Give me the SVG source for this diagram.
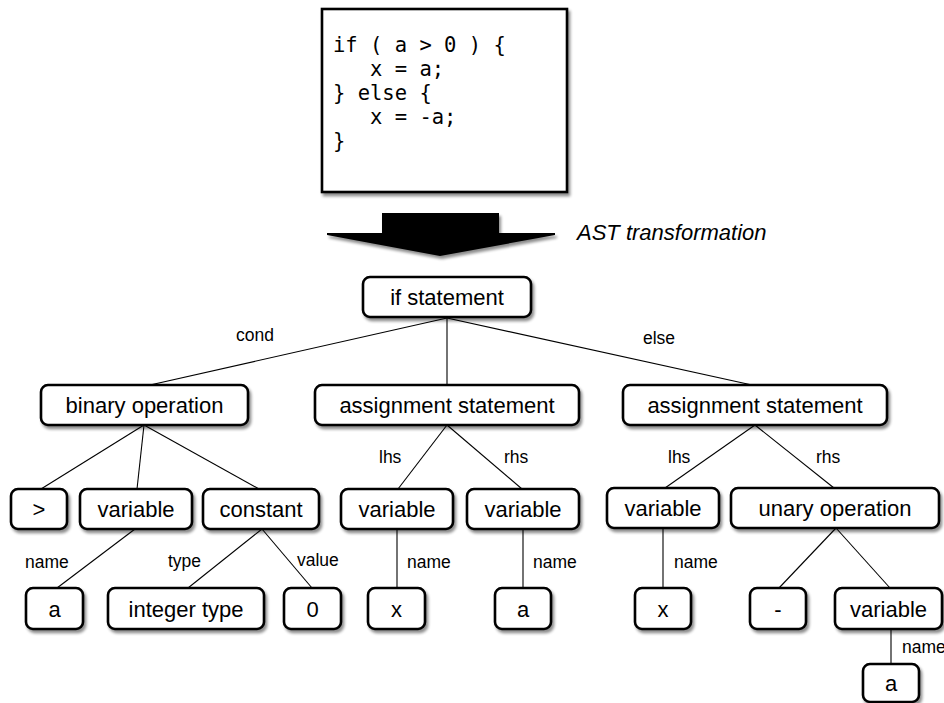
<svg xmlns="http://www.w3.org/2000/svg" width="944" height="703" viewBox="0 0 944 703">
<defs>
<filter id="sh" x="-20%" y="-20%" width="150%" height="160%">
<feGaussianBlur in="SourceAlpha" stdDeviation="1.6"/>
<feOffset dx="2" dy="3" result="o"/>
<feComponentTransfer><feFuncA type="linear" slope="0.45"/></feComponentTransfer>
<feMerge><feMergeNode/><feMergeNode in="SourceGraphic"/></feMerge>
</filter>
<style>
.box{fill:#fff;stroke:#000;stroke-width:2.6;filter:url(#sh)}
.lbl{font-family:"Liberation Sans",Arial,sans-serif;font-size:22px;fill:#000;text-anchor:middle}
.elb{font-family:"Liberation Sans",Arial,sans-serif;font-size:17.5px;fill:#000}
.code{font-family:"DejaVu Sans Mono","Liberation Mono",monospace;font-size:20.5px;fill:#000}
.edge{stroke:#000;stroke-width:1.1;fill:none}
</style>
</defs>
<rect width="944" height="703" fill="#fff"/>

<g id="code">
<rect x="322" y="9" width="245" height="183" fill="#fff" stroke="#000" stroke-width="2.6" filter="url(#sh)"/>
<text class="code" x="333" y="52" xml:space="preserve">if ( a &gt; 0 ) {</text>
<text class="code" x="333" y="76" xml:space="preserve">   x = a;</text>
<text class="code" x="333" y="100" xml:space="preserve">} else {</text>
<text class="code" x="333" y="124" xml:space="preserve">   x = -a;</text>
<text class="code" x="333" y="148" xml:space="preserve">}</text>
</g>

<g id="transform-arrow">
<polygon points="382,213 499,213 499,233 555,233 555,235 440,256 327,235 327,233 382,233" fill="#000" filter="url(#sh)"/>
<text x="577" y="240" font-family="Liberation Sans, Arial, sans-serif" font-size="22" font-style="italic" fill="#000">AST transformation</text>
</g>

<g id="connectors">
<line class="edge" x1="447" y1="318" x2="150" y2="385"/>
<line class="edge" x1="447" y1="318" x2="447" y2="385"/>
<line class="edge" x1="447" y1="318" x2="752" y2="385"/>
<line class="edge" x1="144" y1="425" x2="41" y2="489"/>
<line class="edge" x1="144" y1="425" x2="137" y2="489"/>
<line class="edge" x1="144" y1="425" x2="259" y2="489"/>
<line class="edge" x1="135" y1="529" x2="57" y2="588"/>
<line class="edge" x1="262" y1="529" x2="188" y2="588"/>
<line class="edge" x1="262" y1="529" x2="312" y2="588"/>
<line class="edge" x1="447" y1="425" x2="398" y2="489"/>
<line class="edge" x1="447" y1="425" x2="522" y2="489"/>
<line class="edge" x1="397" y1="529" x2="397" y2="588"/>
<line class="edge" x1="523" y1="529" x2="523" y2="588"/>
<line class="edge" x1="755" y1="425" x2="665" y2="488"/>
<line class="edge" x1="755" y1="425" x2="834" y2="488"/>
<line class="edge" x1="663" y1="528" x2="663" y2="588"/>
<line class="edge" x1="836" y1="528" x2="779" y2="588"/>
<line class="edge" x1="836" y1="528" x2="890" y2="588"/>
<line class="edge" x1="891" y1="629" x2="891" y2="664"/>
<text class="elb" x="236" y="341">cond</text>
<text class="elb" x="643" y="344">else</text>
<text class="elb" x="379" y="463">lhs</text>
<text class="elb" x="504" y="463">rhs</text>
<text class="elb" x="668" y="463">lhs</text>
<text class="elb" x="816" y="463">rhs</text>
<text class="elb" x="25" y="568">name</text>
<text class="elb" x="168" y="567">type</text>
<text class="elb" x="297" y="566">value</text>
<text class="elb" x="407" y="568">name</text>
<text class="elb" x="533" y="568">name</text>
<text class="elb" x="674" y="568">name</text>
<text class="elb" x="902" y="653">name</text>
</g>

<g id="n-if"><rect class="box" x="363" y="277" width="168" height="40" rx="7"/><text class="lbl" x="447" y="305">if statement</text></g>
<g id="n-binop"><rect class="box" x="41" y="385" width="207" height="40" rx="7"/><text class="lbl" x="144.5" y="413">binary operation</text></g>
<g id="n-assign1"><rect class="box" x="315" y="385" width="264" height="40" rx="7"/><text class="lbl" x="447" y="413">assignment statement</text></g>
<g id="n-assign2"><rect class="box" x="623" y="385" width="264" height="40" rx="7"/><text class="lbl" x="755" y="413">assignment statement</text></g>
<g id="n-gt"><rect class="box" x="11" y="489" width="56" height="40" rx="7"/><text class="lbl" x="39" y="517">&gt;</text></g>
<g id="n-var1"><rect class="box" x="80" y="489" width="112" height="40" rx="7"/><text class="lbl" x="136" y="517">variable</text></g>
<g id="n-const"><rect class="box" x="203" y="489" width="116" height="40" rx="7"/><text class="lbl" x="261" y="517">constant</text></g>
<g id="n-var2"><rect class="box" x="341" y="489" width="112" height="40" rx="7"/><text class="lbl" x="397" y="517">variable</text></g>
<g id="n-var3"><rect class="box" x="467" y="489" width="112" height="40" rx="7"/><text class="lbl" x="523" y="517">variable</text></g>
<g id="n-var4"><rect class="box" x="607" y="488" width="112" height="40" rx="7"/><text class="lbl" x="663" y="516">variable</text></g>
<g id="n-unop"><rect class="box" x="731" y="488" width="208" height="40" rx="7"/><text class="lbl" x="835" y="516">unary operation</text></g>
<g id="n-a1"><rect class="box" x="26" y="588" width="57" height="41" rx="7"/><text class="lbl" x="54.5" y="617">a</text></g>
<g id="n-inttype"><rect class="box" x="108" y="588" width="156" height="41" rx="7"/><text class="lbl" x="186" y="617">integer type</text></g>
<g id="n-zero"><rect class="box" x="284" y="588" width="57" height="41" rx="7"/><text class="lbl" x="312.5" y="617">0</text></g>
<g id="n-x1"><rect class="box" x="368" y="588" width="57" height="41" rx="7"/><text class="lbl" x="396.5" y="617">x</text></g>
<g id="n-a2"><rect class="box" x="495" y="588" width="56" height="41" rx="7"/><text class="lbl" x="523" y="617">a</text></g>
<g id="n-x2"><rect class="box" x="635" y="588" width="56" height="41" rx="7"/><text class="lbl" x="663" y="617">x</text></g>
<g id="n-minus"><rect class="box" x="750" y="588" width="56" height="41" rx="7"/><text class="lbl" x="778" y="617">-</text></g>
<g id="n-var5"><rect class="box" x="835" y="588" width="107" height="41" rx="7"/><text class="lbl" x="888.5" y="617">variable</text></g>
<g id="n-a3"><rect class="box" x="863" y="664" width="56" height="38" rx="7"/><text class="lbl" x="891" y="691">a</text></g>
</svg>
